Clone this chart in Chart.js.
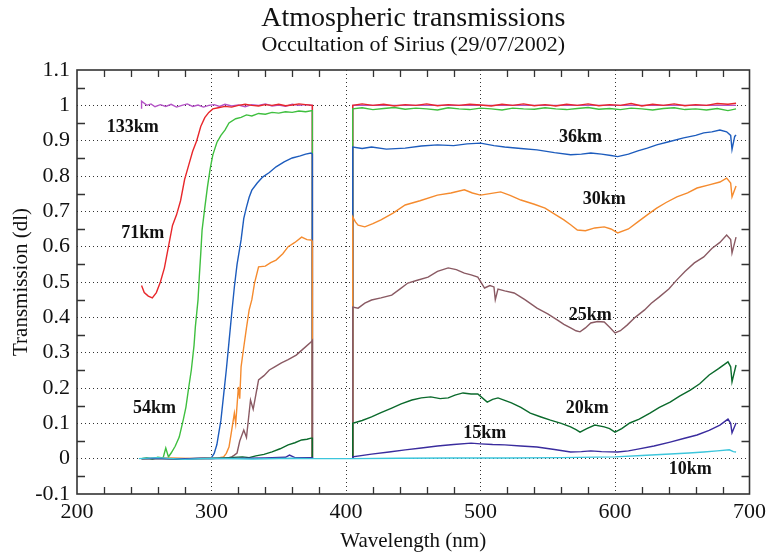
<!DOCTYPE html>
<html><head><meta charset="utf-8">
<script src="https://cdn.jsdelivr.net/npm/chart.js@4.4.1/dist/chart.umd.min.js"></script>
<style>html,body{margin:0;padding:0;background:#fff}canvas{display:block}</style>
</head><body>
<canvas id="c" width="771" height="554"></canvas>
<script>
// ---------- axis ticks ----------
const xTickLabels = [200, 300, 400, 500, 600, 700];
const yTickLabels = [-0.1, 0, 0.1, 0.2, 0.3, 0.4, 0.5, 0.6, 0.7, 0.8, 0.9, 1, 1.1];
const xMinorTicks = [220,240,260,280,320,340,360,380,420,440,460,480,520,540,560,580,620,640,660,680];
const yMinorTicks = [-0.05,0.05,0.15,0.25,0.35,0.45,0.55,0.65,0.75,0.85,0.95,1.05];

// ---------- series names ----------
const seriesNames = ['133km','71km','54km','36km','30km','25km','20km','15km','10km'];

// ---------- 133 km ----------
const wlA133 = [248,248,252,255,258,262,266,270,274,278,282,286,290,294,298,302,306,310,315,320,325,330,335,340,345,350,355,360,365,370,375,375];
const tA133  = [0.99,1.012,1.0,1.004,0.996,1.002,0.997,1.003,0.995,1.0,1.004,0.997,1.001,0.995,1.0,1.002,0.997,1.003,0.998,1.001,0.996,1.002,1.0,1.004,0.998,1.001,0.997,1.003,1.0,1.002,1.0,0];
const wlB133 = [405,405,450,500,550,600,650,690];
const tB133  = [0,1.0,1.0,1.0,1.0,1.0,1.0,1.0];

// ---------- 71 km ----------
const wlA71 = [248,250,253,256,259,262,265,268,271,274,277,280,283,286,289,292,295,298,301,305,310,315,320,325,330,335,340,345,350,355,360,365,370,375,375];
const tA71  = [0.49,0.47,0.46,0.455,0.47,0.5,0.54,0.6,0.66,0.69,0.73,0.79,0.83,0.87,0.9,0.94,0.965,0.98,0.99,0.993,0.997,0.995,1.0,1.003,1.0,0.998,1.002,1.0,1.003,0.999,1.001,1.004,1.002,1.0,0];
const wlB71 = [405,405,412,420,428,436,444,452,460,468,476,484,492,500,508,516,524,532,540,548,556,564,572,580,588,596,604,612,620,628,636,644,652,660,668,676,684,690];
const tB71  = [0,1.0,1.004,1.0,1.003,0.998,1.002,1.0,1.004,0.999,1.002,1.0,1.003,1.001,0.998,1.003,1.0,1.004,0.999,1.002,0.998,1.003,1.0,1.004,0.999,1.002,1.0,1.005,0.998,1.003,1.0,1.004,0.999,1.002,1.0,1.005,1.003,1.006];

// ---------- 54 km ----------
const wlA54 = [248,252,256,260,264,266,268,270,273,276,279,281,283,285,287,288,290,291,292,293,295,297,299,301,304,307,310,313,318,322,326,330,335,340,345,350,355,360,365,370,375,375];
const tA54  = [0.0,0.003,-0.002,0.004,0.002,0.03,0.005,0.016,0.035,0.061,0.11,0.146,0.2,0.251,0.32,0.373,0.45,0.52,0.58,0.647,0.71,0.769,0.82,0.86,0.895,0.915,0.93,0.95,0.962,0.966,0.973,0.97,0.977,0.975,0.98,0.978,0.982,0.98,0.984,0.982,0.985,0];
const wlB54 = [405,405,412,420,428,436,444,452,460,468,476,484,492,500,508,516,524,532,540,548,556,564,572,580,588,596,604,612,620,628,636,644,652,660,668,676,684,690];
const tB54  = [0,0.99,0.993,0.988,0.991,0.994,0.989,0.992,0.99,0.987,0.993,0.99,0.988,0.992,0.99,0.987,0.992,0.99,0.989,0.993,0.99,0.988,0.991,0.994,0.989,0.991,0.988,0.992,0.99,0.987,0.991,0.993,0.988,0.99,0.987,0.991,0.985,0.99];

// ---------- 36 km ----------
const wlA36 = [248,260,275,290,300,302,304,307,309,311,313,315,317,319,322,324,326,328,330,334,338,343,348,354,360,366,370,374,375,375];
const tA36  = [0,0.002,-0.002,0.001,0.003,0.015,0.04,0.109,0.18,0.251,0.33,0.41,0.486,0.55,0.619,0.68,0.712,0.74,0.76,0.78,0.797,0.81,0.826,0.84,0.851,0.857,0.862,0.865,0.862,0];
const wlB36 = [405,405,412,419,430,444,456,468,480,490,500,510,518,530,542,555,567,575,582,590,597,602,610,617,624,631,640,651,660,666,672,678,683,686,687,689,690];
const tB36  = [0,0.882,0.878,0.882,0.876,0.879,0.885,0.888,0.886,0.891,0.893,0.886,0.882,0.878,0.874,0.866,0.86,0.862,0.865,0.862,0.858,0.855,0.862,0.871,0.879,0.888,0.897,0.908,0.915,0.922,0.925,0.93,0.925,0.915,0.875,0.912,0.916];

// ---------- 30 km ----------
const wlA30 = [248,270,290,305,309,311,313,315,317,318,320,321,322,324,326,328,330,332,335,340,344,348,353,357,362,367,371,374,375,375];
const tA30  = [0,0.002,0,0.002,0.005,0.015,0.033,0.08,0.129,0.1,0.203,0.17,0.26,0.316,0.37,0.421,0.45,0.497,0.543,0.545,0.555,0.562,0.58,0.6,0.612,0.627,0.62,0.619,0.615,0];
const wlB30 = [405,405,407,409,414,420,426,435,444,455,468,478,488,494,500,507,515,522,530,540,548,556,562,567,572,578,585,592,597,602,610,617,624,631,638,646,654,661,670,678,683,686,687,690];
const tB30  = [0,0.684,0.67,0.661,0.656,0.665,0.676,0.695,0.718,0.73,0.746,0.752,0.761,0.752,0.746,0.75,0.755,0.745,0.732,0.72,0.709,0.69,0.676,0.662,0.647,0.645,0.653,0.656,0.65,0.639,0.65,0.67,0.69,0.709,0.725,0.741,0.752,0.766,0.775,0.783,0.794,0.78,0.741,0.772];

// ---------- 25 km ----------
const wlA25 = [248,280,300,312,315,317,319,321,324,326,329,331,335,339,343,347,352,357,363,368,374,375,375];
const tA25  = [0,0,0.002,0.002,0.005,0.01,0.016,0.05,0.081,0.06,0.166,0.14,0.223,0.235,0.251,0.26,0.271,0.28,0.293,0.31,0.33,0.335,0];
const wlB25 = [405,405,409,414,419,426,434,440,446,453,461,468,476,482,488,493,498,503,507,510,511,513,518,525,533,542,550,557,562,567,571,574,578,582,587,592,596,600,604,609,615,622,627,633,640,646,652,659,666,672,678,683,686,687,690];
const tB25  = [0,0.429,0.426,0.44,0.449,0.455,0.463,0.48,0.497,0.505,0.514,0.53,0.54,0.535,0.525,0.52,0.514,0.483,0.49,0.486,0.45,0.48,0.475,0.469,0.45,0.426,0.41,0.393,0.38,0.37,0.362,0.359,0.37,0.384,0.388,0.387,0.372,0.356,0.362,0.378,0.4,0.421,0.44,0.458,0.48,0.506,0.53,0.554,0.571,0.595,0.612,0.633,0.62,0.582,0.627];

// ---------- 20 km ----------
const wlA20 = [248,300,323,328,333,339,345,351,357,362,367,371,374,375,375];
const tA20  = [0,0,0.005,0.003,0.008,0.012,0.019,0.028,0.039,0.045,0.053,0.055,0.058,0.058,0];
const wlB20 = [405,405,412,419,426,434,441,449,456,463,470,476,481,487,493,498,502,505,509,513,518,523,530,537,545,552,560,567,571,574,579,585,592,596,600,605,611,618,626,633,641,648,656,663,670,677,684,686,687,690];
const tB20  = [0,0.1,0.108,0.118,0.13,0.143,0.155,0.166,0.172,0.175,0.17,0.172,0.18,0.186,0.183,0.183,0.17,0.16,0.168,0.172,0.165,0.158,0.145,0.129,0.118,0.109,0.1,0.09,0.082,0.075,0.085,0.095,0.09,0.085,0.075,0.085,0.101,0.112,0.129,0.145,0.16,0.177,0.194,0.212,0.237,0.255,0.274,0.26,0.217,0.265];

// ---------- 15 km ----------
const wlA15 = [248,300,340,355,358,362,375,375];
const tA15  = [0,0,0.002,0.004,0.01,0.003,0.003,0];
const wlB15 = [405,405,419,432,444,456,468,480,493,500,509,518,530,542,555,567,575,582,590,602,610,617,629,641,651,661,670,678,684,686,687,690];
const tB15  = [0,0.005,0.013,0.019,0.025,0.03,0.036,0.04,0.044,0.042,0.04,0.039,0.036,0.033,0.026,0.019,0.02,0.022,0.02,0.019,0.022,0.027,0.036,0.047,0.057,0.067,0.08,0.095,0.112,0.1,0.073,0.101];

// ---------- 10 km (continuous) ----------
const wl10 = [246,260,280,300,330,360,375,390,405,440,480,520,560,600,620,641,655,666,676,685,688,690];
const t10  = [0,0.003,-0.002,0.001,-0.001,0.001,0,0,0,0.001,0.002,0.002,0.003,0.005,0.009,0.013,0.016,0.019,0.022,0.025,0.02,0.019];

// ---------- curve labels (anchor in data units) ----------
const labelText = ['133km','71km','54km','36km','30km','25km','20km','15km','10km'];
const labelWl   = [241.5, 248.8, 257.7, 574.3, 592, 581.6, 579.4, 503.2, 656];
const labelT    = [0.939, 0.637, 0.143, 0.91, 0.734, 0.407, 0.143, 0.072, -0.03];

const colors = ['#b452c6','#e8272b','#3fbf3f','#1d5cbd','#f58b2e','#8a5a63','#0b6a2c','#3a2c9e','#3cc6dc'];

function seg(wa, ta, wb, tb) {
  const out = wa.map((w, i) => ({x: w, y: ta[i]}));
  if (wb) {
    out.push({x: 390, y: null});
    wb.forEach((w, i) => out.push({x: w, y: tb[i]}));
  }
  return out;
}
const seriesData = [
  seg(wlA133, tA133, wlB133, tB133),
  seg(wlA71, tA71, wlB71, tB71),
  seg(wlA54, tA54, wlB54, tB54),
  seg(wlA36, tA36, wlB36, tB36),
  seg(wlA30, tA30, wlB30, tB30),
  seg(wlA25, tA25, wlB25, tB25),
  seg(wlA20, tA20, wlB20, tB20),
  seg(wlA15, tA15, wlB15, tB15),
  seg(wl10, t10)
];

const SERIF = '"Liberation Serif", "Times New Roman", "DejaVu Serif", serif';

const framePlugin = {
  id: 'frame',
  afterDatasetsDraw(chart) {
    const {ctx, chartArea: a, scales: {x, y}} = chart;
    ctx.save();
    // curve labels
    ctx.fillStyle = '#111';
    ctx.font = 'bold 18px ' + SERIF;
    ctx.textAlign = 'center';
    ctx.textBaseline = 'middle';
    labelText.forEach((t, i) => {
      ctx.fillText(t, x.getPixelForValue(labelWl[i]), y.getPixelForValue(labelT[i]));
    });
    // inward minor ticks
    ctx.strokeStyle = '#333';
    ctx.lineWidth = 1.3;
    ctx.beginPath();
    xMinorTicks.forEach(v => {
      const px = Math.round(x.getPixelForValue(v)) + 0.5;
      ctx.moveTo(px, a.bottom); ctx.lineTo(px, a.bottom - 7);
      ctx.moveTo(px, a.top); ctx.lineTo(px, a.top + 7);
    });
    yMinorTicks.forEach(v => {
      const py = Math.round(y.getPixelForValue(v)) + 0.5;
      ctx.moveTo(a.left, py); ctx.lineTo(a.left + 8, py);
      ctx.moveTo(a.right, py); ctx.lineTo(a.right - 8, py);
    });
    ctx.stroke();
    // frame
    ctx.lineWidth = 1.6;
    ctx.strokeStyle = '#333';
    ctx.strokeRect(a.left, a.top, a.right - a.left, a.bottom - a.top);
    // titles
    const cx = (a.left + a.right) / 2;
    ctx.fillStyle = '#111';
    ctx.font = '28px ' + SERIF;
    ctx.fillText('Atmospheric transmissions', cx, 19);
    ctx.font = '22px ' + SERIF;
    ctx.fillText('Occultation of Sirius (29/07/2002)', cx, 45);
    ctx.restore();
  }
};

const gridColor = (lo, hi) => (c) => {
  const v = c.tick ? c.tick.value : null;
  if (v === null || Math.abs(v - lo) < 1e-6 || Math.abs(v - hi) < 1e-6) return 'rgba(0,0,0,0)';
  return '#333';
};

const nSeries = seriesData.length;
new Chart(document.getElementById('c'), {
  type: 'line',
  data: {
    datasets: seriesData.map((d, i) => ({
      label: seriesNames[i],
      data: d,
      order: nSeries - 1 - i,
      borderColor: colors[i],
      backgroundColor: colors[i],
      borderWidth: 1.4,
      pointRadius: 0,
      tension: 0,
      spanGaps: false
    }))
  },
  options: {
    responsive: false,
    animation: false,
    devicePixelRatio: 1,
    layout: {padding: {top: 70, right: 18, left: 0, bottom: 0}},
    plugins: {legend: {display: false}, tooltip: {enabled: false}, title: {display: false}},
    scales: {
      x: {
        type: 'linear',
        min: xTickLabels[0], max: xTickLabels[xTickLabels.length - 1],
        afterBuildTicks: (s) => { s.ticks = xTickLabels.map(v => ({value: v})); },
        afterFit: (s) => { s.height = 60; },
        ticks: {color: '#111', font: {family: SERIF, size: 22}, padding: 5, maxRotation: 0},
        grid: {drawTicks: false, color: gridColor(200, 700), lineWidth: 1},
        border: {display: false, dash: [1, 3]},
        title: {display: true, text: 'Wavelength (nm)', color: '#111', font: {family: SERIF, size: 21}, padding: {top: 0, bottom: 0}}
      },
      y: {
        type: 'linear',
        min: -0.1, max: 1.1,
        afterBuildTicks: (s) => { s.ticks = yTickLabels.map(v => ({value: v})); },
        afterFit: (s) => { s.width = 77; },
        ticks: {color: '#111', font: {family: SERIF, size: 22}, padding: 7, callback: (v) => String(Number(v.toFixed(2)))},
        grid: {drawTicks: false, color: gridColor(-0.1, 1.1), lineWidth: 1},
        border: {display: false, dash: [1, 3]},
        title: {display: true, text: 'Transmission (dl)', color: '#111', font: {family: SERIF, size: 21}, padding: {top: 9, bottom: 0}}
      }
    }
  },
  plugins: [framePlugin]
});
</script>
</body></html>
